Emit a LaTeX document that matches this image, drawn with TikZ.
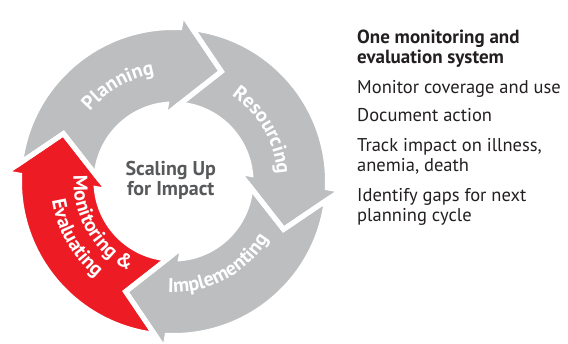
\documentclass[tikz,border=0pt]{standalone}
\usepackage{fontspec}
\setmainfont{PT Sans}
\usetikzlibrary{decorations.text}
\definecolor{arrowgrey}{HTML}{BCBEC0}
\definecolor{arrowred}{HTML}{ED1C24}
\definecolor{centergrey}{HTML}{58595B}
\definecolor{listblack}{HTML}{231F20}
% one curved arrow of the cycle, turned clockwise by #1 degrees
\newcommand{\cyclearrow}[2]{%
  \path[#2] ({172.95-#1}:154pt)
    arc[start angle={172.95-#1}, end angle={87.64-#1}, radius=154pt]
    -- ({87-#1}:168pt) -- ({66.5-#1}:120pt) -- ({98-#1}:66pt)
    -- ({95.27-#1}:77.5pt)
    arc[start angle={95.27-#1}, end angle={175.55-#1}, radius=77.5pt]
    -- ({156.5-#1}:120pt) -- cycle;}
\newcommand{\lblfont}{\fontsize{20}{23}\selectfont\bfseries}
\tikzset{
  gapline/.style={draw=white, line width=5pt, line join=miter},
  curvedlabel/.style={decorate, decoration={text along path, text align=center, text color=white}},
  listtext/.style={anchor=base west, inner sep=0pt, text=listblack, font=\fontsize{18.5}{22}\selectfont},
  listhead/.style={listtext, font=\fontsize{19}{22}\selectfont\bfseries},
  centertext/.style={anchor=base, inner sep=0pt, text=centergrey, font=\fontsize{20}{24}\selectfont\bfseries}
}
\begin{document}
\begin{tikzpicture}
\useasboundingbox (-173.5pt,-161.5pt) rectangle (394.5pt,181.5pt);
% arrows
\cyclearrow{0}{fill=arrowgrey}
\cyclearrow{90}{fill=arrowgrey}
\cyclearrow{180}{fill=arrowgrey}
\cyclearrow{270}{fill=arrowred}
\cyclearrow{0}{gapline}
\cyclearrow{90}{gapline}
\cyclearrow{180}{gapline}
\cyclearrow{270}{gapline}
% arrow labels
\path[curvedlabel, decoration={text={|\lblfont|Planning}}]
  (170:109pt) arc[start angle=170, end angle=70, radius=109pt];
\path[curvedlabel, decoration={text={|\lblfont|Resourcing}}]
  (80:104pt) arc[start angle=80, end angle=-20, radius=104pt];
\path[curvedlabel, decoration={text={|\lblfont|Implementing}}]
  (-112:111pt) arc[start angle=-112, end angle=-12, radius=111pt];
\path[curvedlabel, decoration={text={|\lblfont|Monitoring {\&}}}]
  (160:100pt) arc[start angle=160, end angle=260, radius=100pt];
\path[curvedlabel, decoration={text={|\lblfont|Evaluating}}]
  (160:123pt) arc[start angle=160, end angle=260, radius=123pt];
% centre
\node[centertext] (c1) at (-2.7pt,5.5pt) {Scaling Up};
\node[centertext] (c2) at (-2.7pt,-14pt) {for Impact};
% list
\node[listhead] (h1) at (183.5pt,137.5pt) {One monitoring and};
\node[listhead] (h2) at (183.5pt,117.5pt) {evaluation system};
\node[listtext] (l1) at (183.5pt,87.5pt) {Monitor coverage and use};
\node[listtext] (l2) at (183.5pt,59.8pt) {Document action};
\node[listtext] (l3) at (183.5pt,29.8pt) {Track impact on illness,};
\node[listtext] (l4) at (183.5pt,9.8pt) {anemia, death};
\node[listtext] (l5) at (183.5pt,-20.2pt) {Identify gaps for next};
\node[listtext] (l6) at (183.5pt,-40.2pt) {planning cycle};
\end{tikzpicture}
\end{document}
